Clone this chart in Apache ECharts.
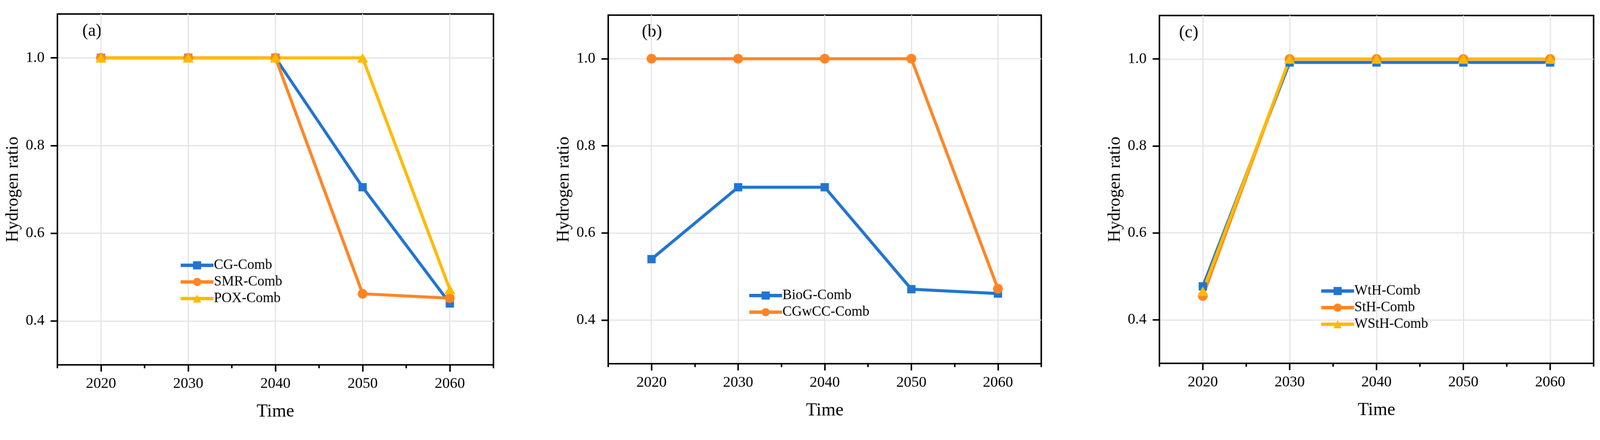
<!DOCTYPE html>
<html>
<head>
<meta charset="utf-8">
<script src="https://cdn.jsdelivr.net/npm/echarts@6/dist/echarts.min.js"></script>
<style>
html,body{margin:0;padding:0;background:#fff;overflow:hidden;width:100%;height:100%;}
#chart{width:4238px;height:1126px;transform-origin:0 0;position:absolute;left:0;top:0;}
</style>
</head>
<body>
<div id="chart"></div>
<script>
const years = [2020, 2030, 2040, 2050, 2060];
const cgComb = [1.0, 1.0, 1.0, 0.705, 0.44];
const smrComb = [1.0, 1.0, 1.0, 0.462, 0.452];
const poxComb = [1.0, 1.0, 1.0, 1.0, 0.472];
const biogComb = [0.54, 0.705, 0.705, 0.471, 0.461];
const cgwccComb = [1.0, 1.0, 1.0, 1.0, 0.472];
const wthComb = [0.477, 0.992, 0.992, 0.992, 0.992];
const sthComb = [0.455, 1.0, 1.0, 1.0, 1.0];
const wsthComb = [0.466, 1.0, 1.0, 1.0, 1.0];
const majorTicksX = [2020, 2030, 2040, 2050, 2060];
const minorTicksX = [2015, 2025, 2035, 2045, 2055, 2065];
const yTicks = [0.4, 0.6, 0.8, 1.0];
const panelLabels = ['(a)', '(b)', '(c)'];

const FONT = 'Liberation Serif';
const BLUE = '#2175CF', ORANGE = '#FF8524', YELLOW = '#FFBA00';
const GRID_COLOR = '#E3E3E3';

const W = 4238, H = 1126;
const el = document.getElementById('chart');
const s = (window.innerWidth || W) / W;
el.style.transform = 'scale(' + s + ',' + s + ')';

const grids = [
  {left: 152, top: 37, width: 1155, height: 929},
  {left: 1611, top: 40, width: 1147, height: 923},
  {left: 3071, top: 41, width: 1150, height: 921}
];

const xAxes = [], yAxes = [];
grids.forEach((g, i) => {
  xAxes.push({
    type: 'value', gridIndex: i, min: 2015, max: 2065, position: 'bottom',
    name: 'Time', nameLocation: 'middle', nameGap: 100,
    nameTextStyle: {fontFamily: FONT, fontSize: 48, color: '#000'},
    axisLine: {show: true, lineStyle: {color: '#000', width: 4}},
    axisTick: {show: true, inside: false, length: 18, customValues: majorTicksX, lineStyle: {color: '#000', width: 4}},
    axisLabel: {show: true, customValues: majorTicksX, margin: 30, fontFamily: FONT, fontSize: 40, color: '#000', formatter: v => String(v)},
    splitLine: {show: true, lineStyle: {color: GRID_COLOR, width: 3}}
  });
  xAxes.push({
    type: 'value', gridIndex: i, min: 2015, max: 2065, position: 'bottom',
    axisLine: {show: false},
    axisTick: {show: true, inside: false, length: 9, customValues: minorTicksX, lineStyle: {color: '#000', width: 4}},
    axisLabel: {show: false},
    splitLine: {show: false}
  });
  yAxes.push({
    type: 'value', gridIndex: i, min: 0.3, max: 1.1,
    name: 'Hydrogen ratio', nameLocation: 'middle', nameGap: 94,
    nameTextStyle: {fontFamily: FONT, fontSize: 46, color: '#000'},
    axisLine: {show: true, lineStyle: {color: '#000', width: 4}},
    axisTick: {show: true, inside: false, length: 18, customValues: yTicks, lineStyle: {color: '#000', width: 4}},
    axisLabel: {show: true, customValues: yTicks, margin: 34, fontFamily: FONT, fontSize: 40, color: '#000', formatter: v => v.toFixed(1)},
    splitLine: {show: true, lineStyle: {color: GRID_COLOR, width: 3}}
  });
});

function mk(name, vals, color, symbol, size, panel) {
  return {
    name: name, type: 'line', xAxisIndex: panel * 2, yAxisIndex: panel,
    data: years.map((y, k) => [y, vals[k]]),
    symbol: symbol, symbolSize: size, showSymbol: true,
    lineStyle: {color: color, width: 8},
    itemStyle: {color: color},
    emphasis: {disabled: true},
    animation: false
  };
}

const series = [
  mk('CG-Comb', cgComb, BLUE, 'rect', 22, 0),
  mk('SMR-Comb', smrComb, ORANGE, 'circle', 26, 0),
  mk('POX-Comb', poxComb, YELLOW, 'triangle', [29, 25], 0),
  mk('BioG-Comb', biogComb, BLUE, 'rect', 22, 1),
  mk('CGwCC-Comb', cgwccComb, ORANGE, 'circle', 26, 1),
  mk('WtH-Comb', wthComb, BLUE, 'rect', 22, 2),
  mk('StH-Comb', sthComb, ORANGE, 'circle', 26, 2),
  mk('WStH-Comb', wsthComb, YELLOW, 'triangle', [29, 25], 2)
];

const legendCommon = {
  orient: 'vertical', itemWidth: 87, itemHeight: 27, itemGap: 7,
  lineStyle: {width: 9},
  textStyle: {fontFamily: FONT, fontSize: 37, color: '#000', padding: [0, 0, 0, -4]},
  selectedMode: false, padding: 0
};
const legends = [
  Object.assign({}, legendCommon, {left: 474, top: 684, data: ['CG-Comb', 'SMR-Comb', 'POX-Comb']}),
  Object.assign({}, legendCommon, {left: 1980, top: 764, data: ['BioG-Comb', 'CGwCC-Comb']}),
  Object.assign({}, legendCommon, {left: 3495, top: 752, data: ['WtH-Comb', 'StH-Comb', 'WStH-Comb']})
];

const graphics = panelLabels.map((t, i) => ({
  type: 'text',
  left: [218, 1700, 3123][i], top: [60, 62, 64][i],
  style: {text: t, fontFamily: FONT, fontSize: 46, fill: '#000'}
}));

const chart = echarts.init(el, null, {renderer: 'canvas', width: W, height: H});
chart.setOption({
  backgroundColor: '#fff',
  animation: false,
  grid: grids.map(g => Object.assign({show: true, borderColor: '#000', borderWidth: 4, backgroundColor: 'transparent'}, g)),
  xAxis: xAxes,
  yAxis: yAxes,
  legend: legends,
  graphic: graphics,
  series: series
});
</script>
</body>
</html>
